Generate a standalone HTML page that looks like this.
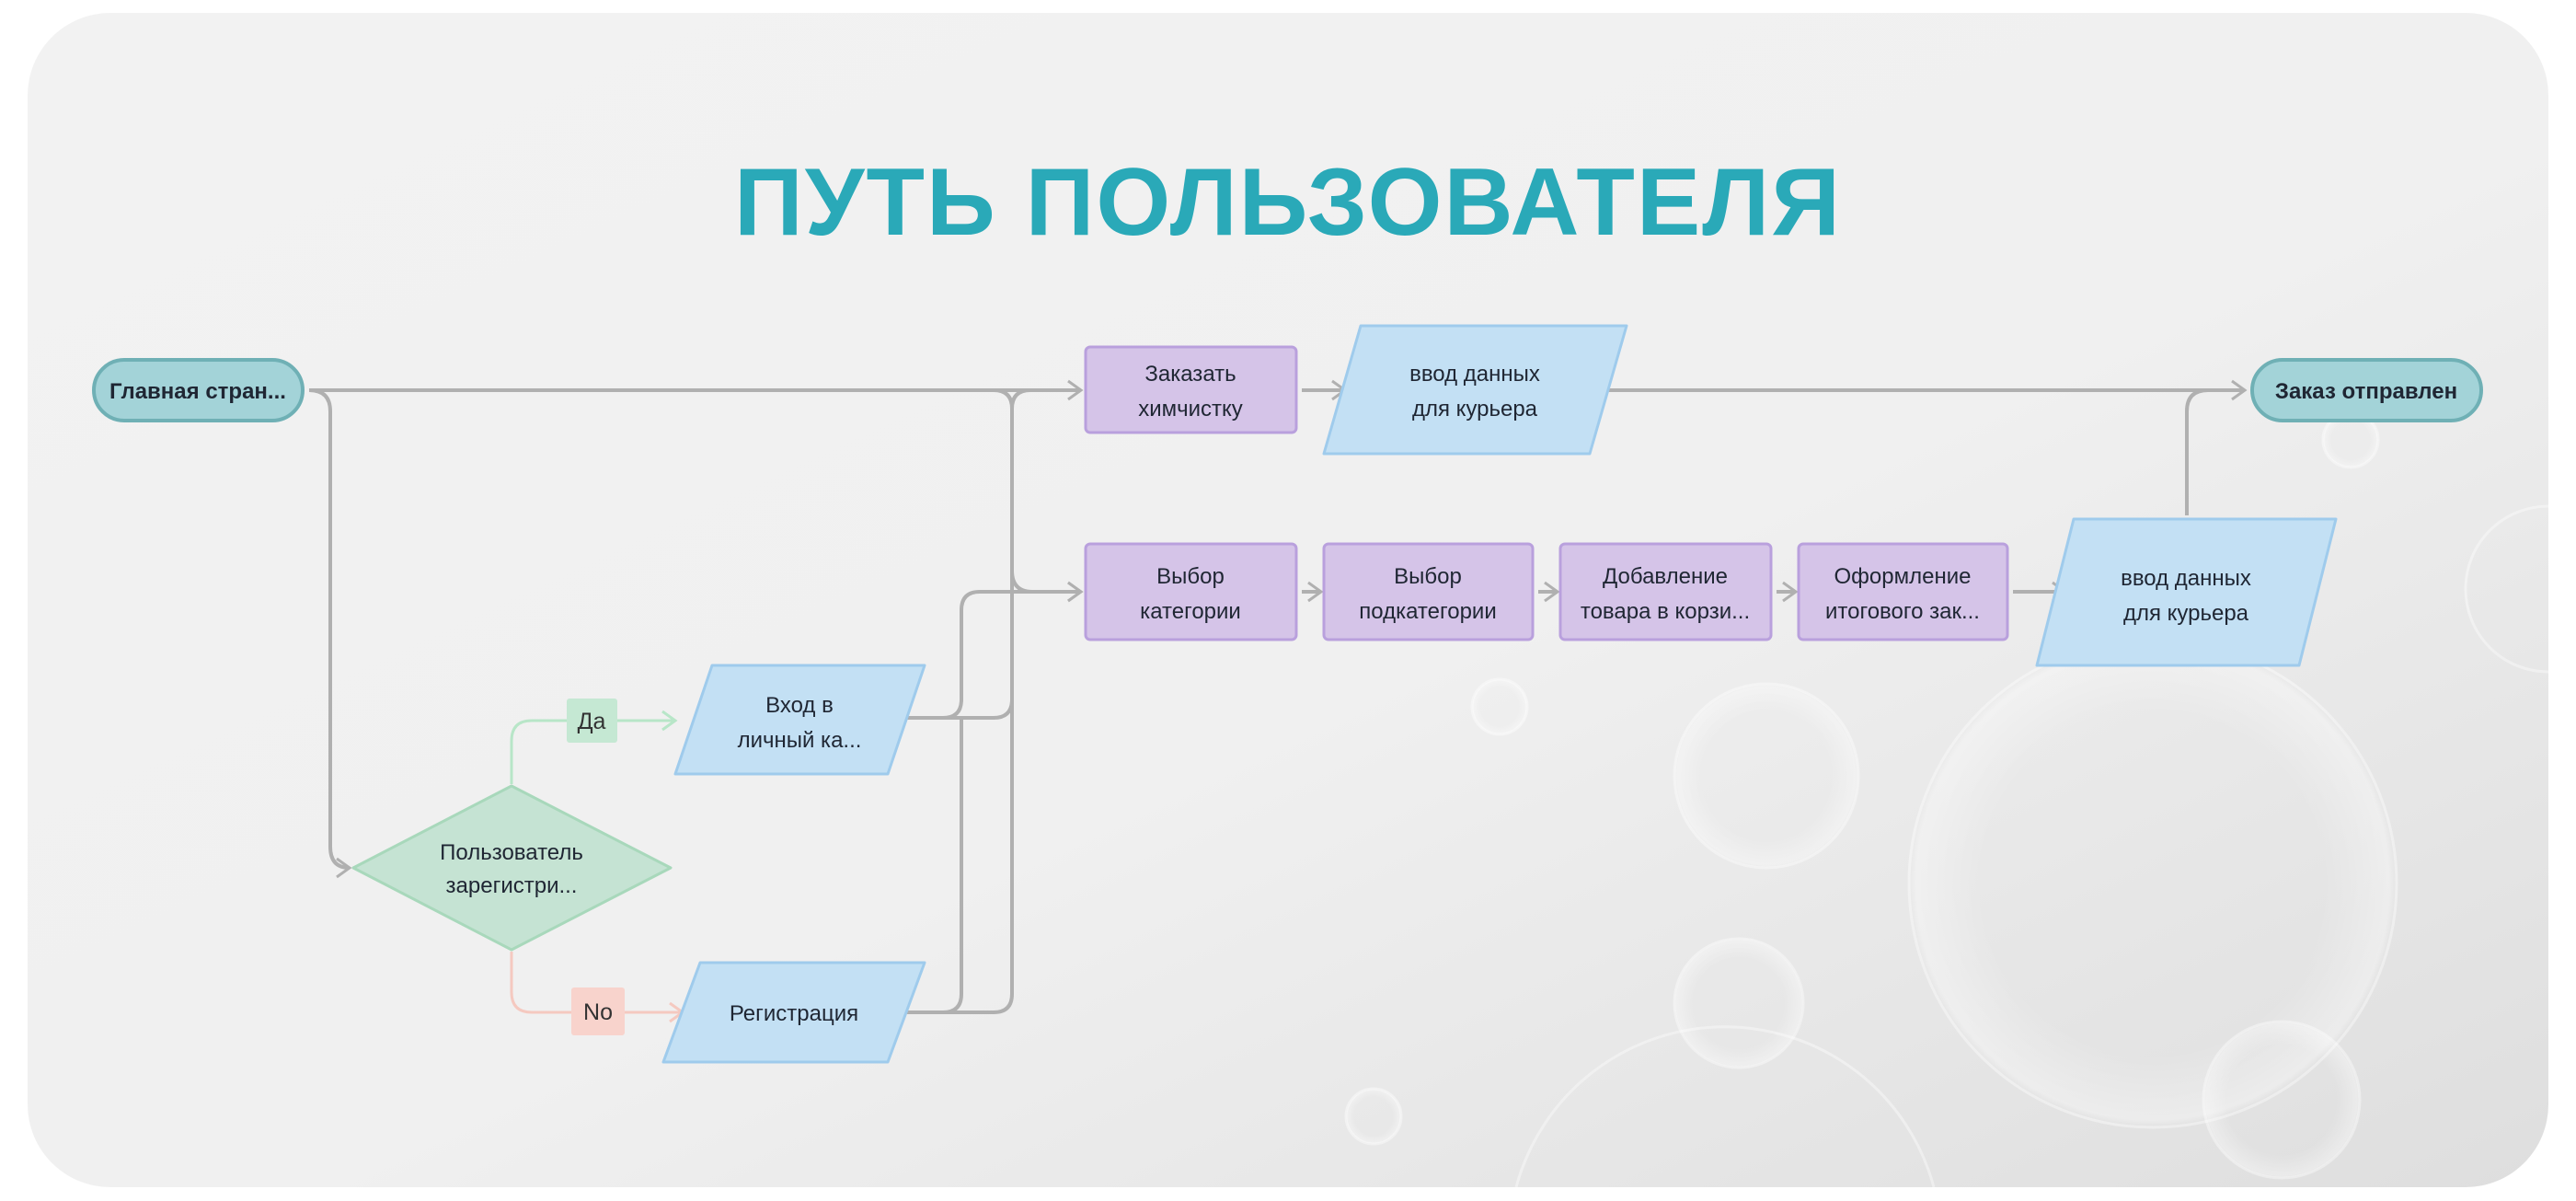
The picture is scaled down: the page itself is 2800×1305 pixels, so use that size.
<!DOCTYPE html>
<html><head><meta charset="utf-8"><style>
html,body{margin:0;padding:0;background:#fff;width:2800px;height:1305px;overflow:hidden;}
svg{display:block;}
text{font-family:"Liberation Sans","DejaVu Sans",sans-serif;}
</style></head><body>
<svg width="2800" height="1305" viewBox="0 0 2800 1305" xmlns="http://www.w3.org/2000/svg">
<defs>
<linearGradient id="bg" x1="0" y1="0" x2="1" y2="1">
<stop offset="0" stop-color="#f2f2f2"/><stop offset="0.55" stop-color="#f0f0f0"/><stop offset="1" stop-color="#dedede"/>
</linearGradient>
<radialGradient id="bub" cx="0.5" cy="0.5" r="0.5">
<stop offset="0.7" stop-color="#ffffff" stop-opacity="0"/><stop offset="0.97" stop-color="#ffffff" stop-opacity="0.35"/><stop offset="1" stop-color="#ffffff" stop-opacity="0"/>
</radialGradient>
<marker id="ag" markerWidth="20" markerHeight="24" refX="17" refY="12" orient="auto" markerUnits="userSpaceOnUse"><path d="M3 2 L17 12 L3 22" fill="none" stroke="#b0b0b0" stroke-width="3"/></marker>
<marker id="agr" markerWidth="20" markerHeight="24" refX="17" refY="12" orient="auto" markerUnits="userSpaceOnUse"><path d="M3 2 L17 12 L3 22" fill="none" stroke="#b8e6c8" stroke-width="3"/></marker>
<marker id="apk" markerWidth="20" markerHeight="24" refX="17" refY="12" orient="auto" markerUnits="userSpaceOnUse"><path d="M3 2 L17 12 L3 22" fill="none" stroke="#f5c9c0" stroke-width="3"/></marker>
</defs>
<rect x="30" y="14" width="2740" height="1276" rx="90" fill="url(#bg)"/>
<g fill="url(#bub)" stroke="#ffffff" stroke-opacity="0.4" stroke-width="3">
<circle cx="2340" cy="960" r="265"/>
<circle cx="1920" cy="843" r="100"/>
<circle cx="1890" cy="1090" r="70"/>
<circle cx="2480" cy="1195" r="85"/>
<path d="M1648 1290 A235 235 0 0 1 2102 1290" fill="none"/>
<path d="M2770 550 A90 90 0 0 0 2770 730" fill="none"/>
<circle cx="1630" cy="768" r="30"/>
<circle cx="2555" cy="478" r="30"/>
<circle cx="1493" cy="1213" r="30"/>
</g>
<text x="1400" y="255" text-anchor="middle" font-size="104" font-weight="bold" fill="#2aa9b8" letter-spacing="2">ПУТЬ ПОЛЬЗОВАТЕЛЯ</text>

<g fill="none" stroke="#b0b0b0" stroke-width="4">
<path d="M336 424 H1175" marker-end="url(#ag)"/>
<path d="M336 424 Q359 424 359 447 V920 Q359 943 380 943" marker-end="url(#ag)"/>
<path d="M1080 424 Q1100 424 1100 444 V1080 Q1100 1100 1080 1100 H985"/>
<path d="M1100 620 Q1100 643 1122 643 H1175" marker-end="url(#ag)"/>
<path d="M1100 760 Q1100 780 1080 780 H985"/>
<path d="M985 780 H1025 Q1045 780 1045 760 V663 Q1045 643 1065 643 H1175" marker-end="url(#ag)"/>
<path d="M985 1100 H1025 Q1045 1100 1045 1080 V780"/>
<path d="M1100 444 Q1100 424 1120 424"/>
<path d="M1415 424 H1462" marker-end="url(#ag)"/>
<path d="M1740 424 H2440" marker-end="url(#ag)"/>
<path d="M2377 560 V447 Q2377 424 2400 424"/>
<path d="M1415 643 H1436" marker-end="url(#ag)"/>
<path d="M1672 643 H1693" marker-end="url(#ag)"/>
<path d="M1931 643 H1952" marker-end="url(#ag)"/>
<path d="M2188 643 H2245" marker-end="url(#ag)"/>
</g>
<path d="M556 852 V805 Q556 783 578 783 H734" fill="none" stroke="#b8e6c8" stroke-width="3" marker-end="url(#agr)"/>
<path d="M556 1034 V1078 Q556 1100 578 1100 H742" fill="none" stroke="#f5c9c0" stroke-width="3" marker-end="url(#apk)"/>
<rect x="616" y="759" width="55" height="48" rx="3" fill="#c5e8d3"/>
<text x="643" y="792" text-anchor="middle" font-size="25" fill="#333">Да</text>
<rect x="621" y="1073" width="58" height="52" rx="3" fill="#f8d3cc"/>
<text x="650" y="1108" text-anchor="middle" font-size="25" fill="#333">No</text>

<g font-size="24" fill="#1f2633" text-anchor="middle">
<rect x="102" y="391" width="227" height="66" rx="33" fill="#a3d3d8" stroke="#6fb0b5" stroke-width="4"/>
<text x="215" y="433" font-weight="bold">Главная стран...</text>
<rect x="2448" y="391" width="249" height="66" rx="33" fill="#a3d3d8" stroke="#6fb0b5" stroke-width="4"/>
<text x="2572" y="433" font-weight="bold">Заказ отправлен</text>

<g fill="#d5c4e8" stroke="#b9a0dd" stroke-width="3">
<rect x="1180" y="377" width="229" height="93" rx="5"/>
<rect x="1180" y="591" width="229" height="104" rx="5"/>
<rect x="1439" y="591" width="227" height="104" rx="5"/>
<rect x="1696" y="591" width="229" height="104" rx="5"/>
<rect x="1955" y="591" width="227" height="104" rx="5"/>
</g>
<text x="1294" y="414">Заказать</text><text x="1294" y="452">химчистку</text>
<text x="1294" y="634">Выбор</text><text x="1294" y="672">категории</text>
<text x="1552" y="634">Выбор</text><text x="1552" y="672">подкатегории</text>
<text x="1810" y="634">Добавление</text><text x="1810" y="672">товара в корзи...</text>
<text x="2068" y="634">Оформление</text><text x="2068" y="672">итогового зак...</text>

<g fill="#c3e0f4" stroke="#9fcbec" stroke-width="3" stroke-linejoin="round">
<polygon points="1479,354 1768,354 1728,493 1439,493"/>
<polygon points="2254,564 2539,564 2499,723 2214,723"/>
<polygon points="774,723 1005,723 965,841 734,841"/>
<polygon points="761,1046 1005,1046 965,1154 721,1154"/>
<polygon points="556,854 729,943 556,1032 384,943" fill="#c5e3d3" stroke="#a8d8bb"/>
</g>
<text x="1603" y="414">ввод данных</text><text x="1603" y="452">для курьера</text>
<text x="2376" y="636">ввод данных</text><text x="2376" y="674">для курьера</text>
<text x="869" y="774">Вход в</text><text x="869" y="812">личный ка...</text>
<text x="863" y="1109">Регистрация</text>
<text x="556" y="934">Пользователь</text><text x="556" y="970">зарегистри...</text>
</g>
</svg>
</body></html>
